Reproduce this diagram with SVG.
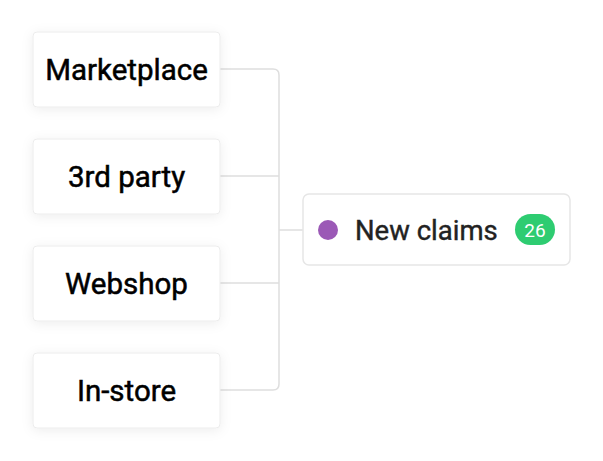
<svg xmlns="http://www.w3.org/2000/svg" width="603" height="461" viewBox="0 0 603 461">
<defs>
<filter id="sh" x="-20%" y="-30%" width="140%" height="160%">
<feDropShadow dx="0" dy="2" stdDeviation="6" flood-color="#000" flood-opacity="0.07"/>
</filter>
</defs>
<style>
.box{fill:#fff;stroke:#ececec;stroke-width:1;filter:url(#sh)}
.lbl{font-family:Roboto,"Liberation Sans",sans-serif;font-size:29.5px;font-weight:400;fill:#000;stroke:#000;stroke-width:0.5px;text-anchor:middle}
.con{fill:none;stroke:#dedede;stroke-width:1.5}
</style>
<rect width="603" height="461" fill="#fff"/>
<g id="connectors">
<path class="con" d="M220 69 H273 Q279 69 279 75 V384 Q279 390 273 390 H220"/>
<path class="con" d="M220 176 H279"/>
<path class="con" d="M220 283 H279"/>
<path class="con" d="M279 230 H303"/>
</g>
<g id="marketplace"><rect class="box" x="33" y="32" width="187" height="75" rx="4"/><text class="lbl" x="126.5" y="80">Marketplace</text></g>
<g id="thirdparty"><rect class="box" x="33" y="139" width="187" height="75" rx="4"/><text class="lbl" x="126.5" y="187">3rd party</text></g>
<g id="webshop"><rect class="box" x="33" y="246" width="187" height="75" rx="4"/><text class="lbl" x="126.5" y="294">Webshop</text></g>
<g id="instore"><rect class="box" x="33" y="353" width="187" height="75" rx="4"/><text class="lbl" x="126.5" y="401">In-store</text></g>
<g id="newclaims">
<rect x="303" y="194" width="267" height="71" rx="6" fill="#fff" stroke="#e6e6e6" stroke-width="1.5"/>
<circle cx="328" cy="230" r="10" fill="#9b59b6"/>
<text x="355" y="239.5" font-family="Roboto,'Liberation Sans',sans-serif" font-size="27.5" fill="#222" stroke="#222" stroke-width="0.4">New claims</text>
<rect x="515" y="214" width="40" height="31" rx="15.5" fill="#2ecc71"/>
<text x="535" y="236.5" font-family="Roboto,'Liberation Sans',sans-serif" font-size="19" fill="#fff" text-anchor="middle">26</text>
</g>
</svg>
